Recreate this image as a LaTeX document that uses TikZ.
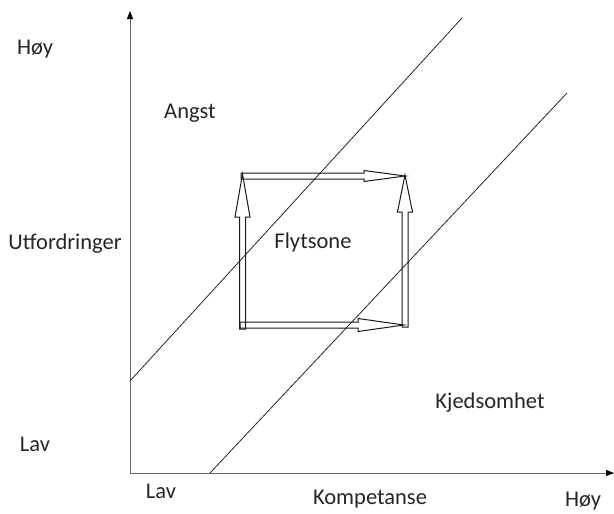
\documentclass[tikz,border=0pt]{standalone}
\usepackage{fontspec}
\setmainfont{Carlito}
\usetikzlibrary{arrows.meta}
\begin{document}
\begin{tikzpicture}[x=1pt,y=-1pt,
  lbl/.style={font=\fontsize{22.5}{26}\selectfont, inner sep=0pt, text=black!85},
  axis/.style={draw=black!60, line width=0.9pt, -{Triangle[length=8pt,width=6pt,color=black]}},
  diag/.style={draw=black!85, line width=0.8pt},
  hollow/.style={draw=black!90, line width=1pt, line join=miter}]
\useasboundingbox (0,0) rectangle (614,514);
% axes
\coordinate (O) at (130,473);
\coordinate (Ytop) at (130,11);
\coordinate (Xend) at (614,473);
\draw[axis] (O) -- (Ytop);
\draw[axis] (O) -- (Xend);
% diagonals
\coordinate (d1a) at (130,381);
\coordinate (d1b) at (462,18);
\coordinate (d2a) at (210,473);
\coordinate (d2b) at (567,93);
\draw[diag] (d1a) -- (d1b);
\draw[diag] (d2a) -- (d2b);
% hollow arrows
% left vertical (up)
\draw[hollow] (239.5,329) -- (239.5,217) -- (235,217) -- (242.5,174) -- (250,217) -- (245.5,217) -- (245.5,329) -- cycle;
% top horizontal (right)
\draw[hollow] (241,173) -- (364,173) -- (364,170.5) -- (405,176) -- (364,181.5) -- (364,179) -- (241,179) -- cycle;
% right vertical (up)
\draw[hollow] (402,327) -- (402,212) -- (397.5,212) -- (405,175) -- (412.5,212) -- (408,212) -- (408,327) -- cycle;
% bottom horizontal (right)
\draw[hollow] (240,322) -- (358,322) -- (358,318.5) -- (404,325) -- (358,331.5) -- (358,328) -- (240,328) -- cycle;
% labels
\node[lbl] (hoyY) at (35,49) {Høy};
\node[lbl] (angst) at (190,113) {Angst};
\node[lbl] (utf) at (65,244) {Utfordringer};
\node[lbl] (flyt) at (313,243) {Flytsone};
\node[lbl] (kjed) at (490,403) {Kjedsomhet};
\node[lbl] (lavY) at (35,444) {Lav};
\node[lbl] (lavX) at (161,491) {Lav};
\node[lbl] (komp) at (370,499) {Kompetanse};
\node[lbl] (hoyX) at (583,501) {Høy};
\end{tikzpicture}
\end{document}
